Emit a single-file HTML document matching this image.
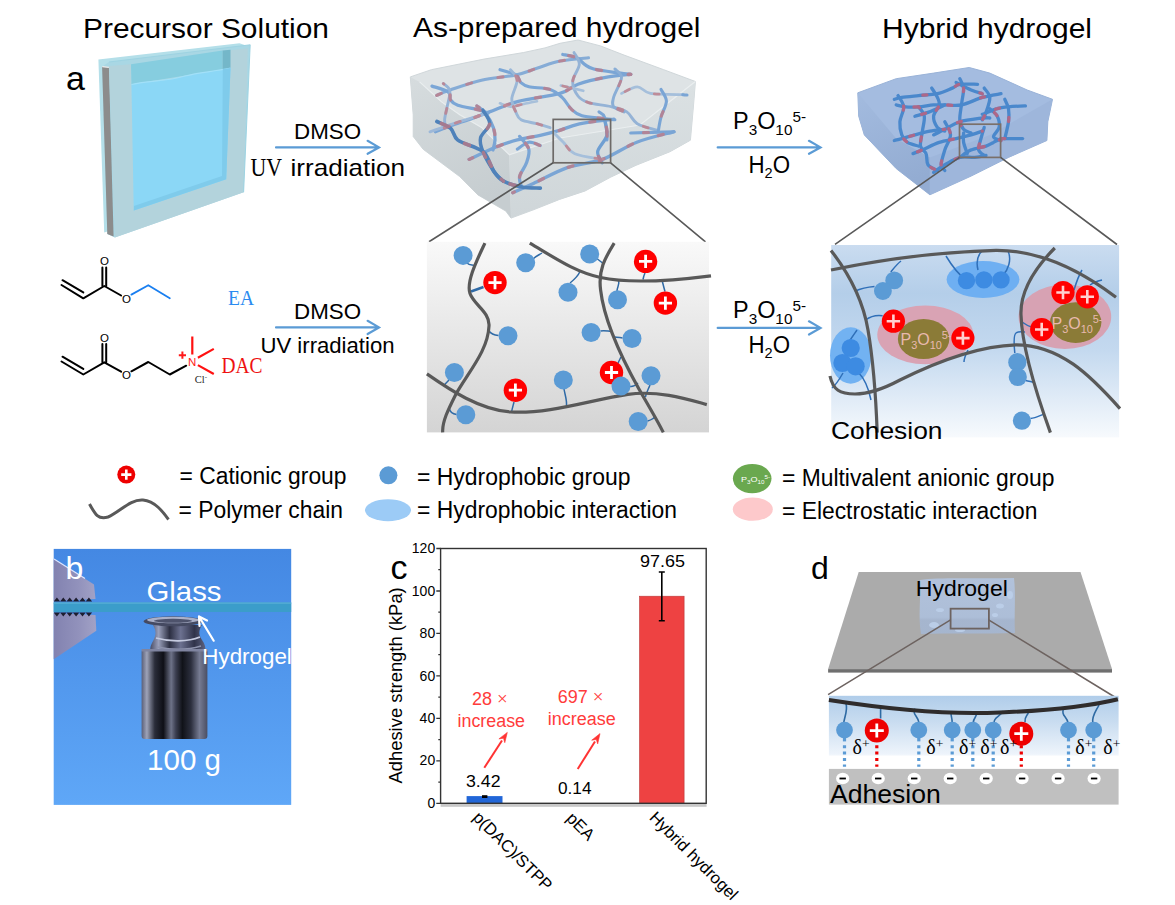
<!DOCTYPE html>
<html><head><meta charset="utf-8">
<style>
html,body{margin:0;padding:0;background:#fff;width:1175px;height:905px;overflow:hidden}
svg{display:block}
text{font-family:"Liberation Sans",sans-serif;fill:#000}
.sf{font-family:"Liberation Serif",serif}
</style></head><body>
<svg width="1175" height="905" viewBox="0 0 1175 905">
<defs>
  <linearGradient id="gMid" x1="0" y1="0" x2="0" y2="1">
    <stop offset="0" stop-color="#f9f9f9"/><stop offset="1" stop-color="#d4d4d4"/>
  </linearGradient>
  <linearGradient id="gRight" x1="0" y1="0" x2="0" y2="1">
    <stop offset="0" stop-color="#cadcf0"/><stop offset="0.25" stop-color="#b4cee9"/><stop offset="0.55" stop-color="#c4d9ef"/><stop offset="1" stop-color="#f7fafd"/>
  </linearGradient>
  <linearGradient id="gPhoto" x1="0" y1="0" x2="0" y2="1">
    <stop offset="0" stop-color="#4488e3"/><stop offset="1" stop-color="#5fa7f7"/>
  </linearGradient>
  <linearGradient id="gD" x1="0" y1="695.8" x2="0" y2="768.9" gradientUnits="userSpaceOnUse">
    <stop offset="0" stop-color="#b0cdea"/><stop offset="0.35" stop-color="#c8dcf0"/><stop offset="0.8" stop-color="#eef4fb"/><stop offset="0.83" stop-color="#ffffff"/><stop offset="1" stop-color="#ffffff"/>
  </linearGradient>
</defs>

<!-- ============ TITLES ============ -->
<text x="83" y="37.8" font-size="28" textLength="246" lengthAdjust="spacingAndGlyphs">Precursor Solution</text>
<text x="413" y="36.8" font-size="28" textLength="287.5" lengthAdjust="spacingAndGlyphs">As-prepared hydrogel</text>
<text x="882" y="38.4" font-size="28" textLength="210" lengthAdjust="spacingAndGlyphs">Hybrid hydrogel</text>
<text x="66" y="90" font-size="34">a</text>


<!-- ============ PRECURSOR CELL ============ -->
<g>
  <polygon points="98.4,59.5 239.5,43.3 246,45.5 240,190 104.2,232.5" fill="#b4dfe9"/>
  <polygon points="109,62 250.2,44.8 243.6,192.2 114.8,237.4 107.3,234 102.1,66.8" fill="#a9d7e4"/>
  <polygon points="102.1,66.8 108.9,67 113.6,236.5 107.3,234" fill="#8c8c8c"/>
  <path d="M102.3,66.6 L108.9,67.4" stroke="#eeeeee" stroke-width="1.2"/>
  <polygon points="109,66 131,64.2 133.8,210.5 226.1,179.2 226.6,50.8 247.8,48.3 243.6,192.2 114.8,237.4" fill="#b3d3dc"/>
  <polygon points="131,64.2 222.6,50.6 222.6,69.5 131.5,84.2" fill="#86cddf"/>
  <polygon points="222.6,50.6 230.5,49.8 230.5,68 222.6,69.5" fill="#74b7c9"/>
  <path d="M131.5,84.5 C150,80 165,82 185,76 C200,72 212,72 230.5,68 L226.2,179.2 L133.8,210.5 Z" fill="#8bd7f6"/>
  <path d="M131.5,84.5 C150,80 165,82 185,76 C200,72 212,72 230.5,68" fill="none" stroke="#a2e0f8" stroke-width="1.2"/>
  <polygon points="222.8,69 230.5,68 226.2,179.2 133.8,210.5 134,206 222,176" fill="#7fcbeb"/>
  <path d="M250.2,44.8 L243.6,192.2 M109,62 L250.2,44.8" stroke="#9ed3e2" stroke-width="1" fill="none"/>
</g>

<!-- BLOCKS START -->
<!-- ============ AS-PREPARED BLOCK ============ -->
<defs><linearGradient id="gAL" x1="0" y1="0" x2="0.3" y2="1"><stop offset="0" stop-color="#d6dcde"/><stop offset="1" stop-color="#c6cdd0"/></linearGradient><linearGradient id="gAR" x1="0" y1="0" x2="0" y2="1"><stop offset="0" stop-color="#dbe1e3"/><stop offset="1" stop-color="#cfd6d9"/></linearGradient></defs>
<polygon points="410.3,76.9 431.4,69.7 484.0,59.1 523.7,52.5 545.0,47.9 560.0,43.3 578.0,40.0 600.4,45.9 624.1,55.1 663.7,69.7 695.4,81.5 693.6,104.0 690.4,140.2 670.0,151.7 636.0,165.3 610.6,177.2 585.0,191.0 559.6,199.4 534.0,209.6 511.0,218.1 505.8,211.1 477.9,194.9 459.7,176.6 423.2,149.3 413.2,136.5 413.2,114.7" fill="#dee3e5" stroke="#d0d7da" stroke-width="1"/>
<polygon points="410.3,76.9 419.6,81.9 441.5,101.9 459.7,114.7 481.5,127.4 499.8,145.7 509.3,154.8 511.0,218.1 505.8,211.1 477.9,194.9 459.7,176.6 423.2,149.3 413.2,136.5 413.2,114.7" fill="url(#gAL)"/>
<polygon points="509.3,154.8 560.0,138.0 640.0,125.0 695.4,81.5 693.6,104.0 690.4,140.2 670.0,151.7 636.0,165.3 610.6,177.2 585.0,191.0 559.6,199.4 534.0,209.6 511.0,218.1" fill="url(#gAR)"/>
<path d="M419.6 81.9L441.5 101.9L459.7 114.7L481.5 127.4L499.8 145.7L509.3 154.8L560 138L640 125L695.4 81.5" stroke="#eef1f2" stroke-width="1.2" fill="none" opacity="0.8"/>
<g fill="none" stroke-linecap="round">
<path d="M436.7 95.4C438.9 94.5 442.4 92.6 449.8 90.1C457.3 87.6 470.5 82.7 481.5 80.2C492.5 77.7 506.6 76.9 515.8 74.9C525.0 73.0 529.5 70.6 536.9 68.3C544.3 66.0 551.4 62.8 560.0 61.1C568.6 59.3 583.7 58.3 588.5 57.8" stroke="#86acd6" stroke-width="3.1"/>
<path d="M432.0 86.1C434.8 87.1 445.5 89.8 448.5 92.1C451.6 94.4 449.0 97.8 450.5 100.0C452.0 102.2 453.0 103.6 457.8 105.3C462.5 106.9 473.8 108.6 478.9 109.9C483.9 111.2 486.6 112.6 488.1 113.2" stroke="#7ba6d6" stroke-width="3.3"/>
<path d="M435.3 131.7C437.5 130.8 443.0 128.4 448.5 126.4C454.0 124.4 461.5 122.2 468.3 119.8C475.1 117.4 481.1 114.9 489.4 111.9C497.8 108.8 506.7 104.4 518.4 101.3C530.2 98.2 550.1 96.3 560.0 93.4C569.9 90.5 570.6 86.8 578.0 84.2C585.4 81.6 595.6 79.2 604.4 77.6C613.2 75.9 626.3 74.8 630.7 74.3" stroke="#7aa5d5" stroke-width="3.3"/>
<path d="M476.9 105.9C478.3 107.1 482.7 109.6 485.5 113.2C488.2 116.8 491.8 123.2 493.4 127.7C495.0 132.2 495.1 136.3 495.0 140.0C494.9 143.7 493.3 148.3 493.0 150.0" stroke="#7aa5d5" stroke-width="3.3"/>
<path d="M500.0 69.7C502.6 70.5 512.3 72.7 515.8 74.9C519.3 77.1 518.9 80.9 521.1 82.8C523.3 84.8 524.2 85.7 529.0 86.8C533.8 87.9 544.6 87.7 550.1 89.4C555.6 91.2 558.5 94.1 562.1 97.4C565.7 100.7 568.1 106.1 571.4 109.2C574.7 112.3 576.7 114.2 582.0 115.8C587.3 117.3 597.5 117.8 603.0 118.5C608.5 119.2 612.9 119.6 614.9 119.8" stroke="#7ba6d6" stroke-width="3.1"/>
<path d="M510.5 69.7C511.6 71.4 516.9 75.4 517.1 80.2C517.3 85.0 512.1 93.4 511.8 98.7C511.6 104.0 514.3 108.4 515.8 111.9C517.3 115.4 517.6 117.8 521.1 119.8C524.6 121.8 532.1 122.4 536.9 123.7C541.7 125.1 547.9 127.0 550.1 127.7" stroke="#9bb8d8" stroke-width="2.9"/>
<path d="M443.3 83.5C444.4 84.7 449.2 86.9 449.8 90.8C450.5 94.6 448.1 101.8 447.2 106.6C446.3 111.4 444.8 116.3 444.6 119.8C444.4 123.3 445.7 126.4 445.9 127.7" stroke="#95b3d6" stroke-width="2.9"/>
<path d="M500.0 103.3C501.7 103.8 506.6 106.5 510.5 106.6C514.5 106.7 519.3 104.8 523.7 104.0C528.1 103.1 534.7 101.8 536.9 101.3" stroke="#a8c0da" stroke-width="2.7"/>
<path d="M562.8 54.5C565.1 55.0 573.1 56.1 576.7 57.8C580.3 59.4 581.8 62.5 584.6 64.4C587.5 66.3 588.1 67.6 593.8 69.0C599.5 70.4 612.8 72.1 618.9 73.0C625.0 73.9 628.7 74.1 630.7 74.3" stroke="#7aa5d5" stroke-width="3.3"/>
<path d="M574.0 52.5C574.9 54.5 579.5 59.6 579.3 64.4C579.1 69.2 572.9 76.2 572.7 81.5C572.5 86.8 575.4 92.5 578.0 96.0C580.6 99.5 583.0 100.8 588.5 102.6C594.0 104.4 604.6 105.0 611.0 106.6C617.4 108.1 622.4 109.1 626.8 111.9C631.2 114.8 632.2 120.6 637.3 123.7C642.3 126.8 653.8 129.2 657.1 130.3" stroke="#95b3d6" stroke-width="2.9"/>
<path d="M614.9 69.0C616.0 70.4 621.7 72.9 621.5 77.6C621.3 82.3 614.9 92.6 613.6 97.4C612.3 102.2 611.9 104.2 613.6 106.6C615.4 109.0 622.4 111.0 624.1 111.9" stroke="#8aaed6" stroke-width="2.9"/>
<path d="M621.5 93.4C624.1 92.3 632.5 86.8 637.3 86.8C642.1 86.8 642.8 92.1 650.5 93.4C658.2 94.7 678.0 94.5 683.5 94.7" stroke="#a5bfdb" stroke-width="2.7"/>
<path d="M661.0 89.4C661.9 91.4 666.4 96.7 666.4 101.3C666.4 105.9 662.3 112.3 661.0 117.1C659.7 121.9 658.8 128.1 658.4 130.3" stroke="#7aa5d5" stroke-width="3.1"/>
<path d="M630.7 133.0C638.0 132.8 667.0 131.9 674.3 131.7" stroke="#7aa5d5" stroke-width="3.1"/>
<path d="M560.8 85.5C564.5 86.4 579.5 89.9 583.3 90.8" stroke="#a5bfdb" stroke-width="2.7"/>
<path d="M599.0 111.9C599.9 112.8 603.1 113.2 604.4 117.1C605.7 120.9 606.6 131.2 607.0 135.0C607.4 138.8 606.9 139.2 606.9 140.0" stroke="#7aa5d5" stroke-width="3.1"/>
<path d="M682.8 94.7C683.5 94.8 686.3 95.0 687.0 95.0" stroke="#7aa5d5" stroke-width="3.1"/>
<path d="M469.1 159.4C473.7 157.3 488.6 150.1 496.6 146.8C504.6 143.6 510.0 141.8 517.3 139.9C524.6 138.0 533.4 136.8 540.3 135.3C547.2 133.8 552.2 132.6 558.7 130.7C565.2 128.8 570.2 125.7 579.4 123.8C588.6 121.9 608.1 120.0 613.8 119.2" stroke="#7aa5d5" stroke-width="3.3"/>
<path d="M517.3 149.1C519.2 147.9 525.0 142.8 528.8 142.2C532.6 141.6 538.4 145.0 540.3 145.6" stroke="#7aa5d5" stroke-width="3.1"/>
<path d="M519.6 136.4C521.1 138.5 527.6 144.7 528.8 149.1C529.9 153.5 528.0 158.2 526.5 162.8C525.0 167.4 520.4 172.4 519.6 176.6C518.8 180.8 521.5 186.2 521.9 188.1" stroke="#7aa5d5" stroke-width="3.3"/>
<path d="M512.7 192.7C516.2 191.2 524.2 187.7 533.4 183.5C542.6 179.3 556.4 171.4 567.9 167.4C579.4 163.4 590.8 163.6 602.3 159.4C613.8 155.2 624.9 146.8 636.8 142.2C648.7 137.6 667.5 133.5 673.6 131.8" stroke="#7aa5d5" stroke-width="3.3"/>
<path d="M554.1 133.0C555.6 134.5 559.8 138.8 563.3 142.2C566.8 145.6 568.3 150.8 574.8 153.7C581.3 156.6 597.7 158.4 602.3 159.4" stroke="#a5bfdb" stroke-width="2.9"/>
<path d="M604.6 120.3C605.0 122.8 608.0 130.1 606.9 135.3C605.8 140.5 598.5 146.8 597.7 151.4C596.9 156.0 601.5 160.9 602.3 162.8" stroke="#6f9fd2" stroke-width="3.3"/>
<path d="M430.0 131.8C433.8 130.5 444.2 126.7 453.0 123.8C461.8 120.9 477.8 116.1 482.8 114.6" stroke="#9db8d8" stroke-width="2.9"/>
<path d="M482.8 110.0C483.9 112.3 490.1 119.2 489.7 123.8C489.3 128.4 481.8 133.0 480.6 137.6C479.5 142.2 480.5 145.7 482.8 151.4C485.1 157.1 490.9 167.0 494.3 172.0C497.8 177.0 502.0 179.7 503.5 181.2" stroke="#4f82ba" stroke-width="3.5"/>
<path d="M436.9 121.5C439.2 122.7 447.2 125.3 450.7 128.4C454.1 131.5 453.4 136.7 457.6 139.9C461.8 143.2 471.4 145.6 476.0 147.9C480.6 150.2 482.1 149.7 485.1 153.7C488.2 157.7 491.2 167.4 494.3 172.0C497.4 176.6 498.9 178.7 503.5 181.2C508.1 183.7 515.8 185.8 521.9 187.0C528.0 188.2 537.2 187.9 540.3 188.1" stroke="#4f82ba" stroke-width="3.7"/>
<g opacity="0.7"><path d="M436.7 95.4C438.9 94.5 442.4 92.6 449.8 90.1C457.3 87.6 470.5 82.7 481.5 80.2C492.5 77.7 506.6 76.9 515.8 74.9C525.0 73.0 529.5 70.6 536.9 68.3C544.3 66.0 551.4 62.8 560.0 61.1C568.6 59.3 583.7 58.3 588.5 57.8" stroke="#c9777d" stroke-width="3.1" stroke-dasharray="5 27" stroke-dashoffset="0"/>
<path d="M432.0 86.1C434.8 87.1 445.5 89.8 448.5 92.1C451.6 94.4 449.0 97.8 450.5 100.0C452.0 102.2 453.0 103.6 457.8 105.3C462.5 106.9 473.8 108.6 478.9 109.9C483.9 111.2 486.6 112.6 488.1 113.2" stroke="#c9777d" stroke-width="3.3" stroke-dasharray="5 27" stroke-dashoffset="11"/>
<path d="M435.3 131.7C437.5 130.8 443.0 128.4 448.5 126.4C454.0 124.4 461.5 122.2 468.3 119.8C475.1 117.4 481.1 114.9 489.4 111.9C497.8 108.8 506.7 104.4 518.4 101.3C530.2 98.2 550.1 96.3 560.0 93.4C569.9 90.5 570.6 86.8 578.0 84.2C585.4 81.6 595.6 79.2 604.4 77.6C613.2 75.9 626.3 74.8 630.7 74.3" stroke="#c9777d" stroke-width="3.3" stroke-dasharray="5 27" stroke-dashoffset="22"/>
<path d="M476.9 105.9C478.3 107.1 482.7 109.6 485.5 113.2C488.2 116.8 491.8 123.2 493.4 127.7C495.0 132.2 495.1 136.3 495.0 140.0C494.9 143.7 493.3 148.3 493.0 150.0" stroke="#c9777d" stroke-width="3.3" stroke-dasharray="5 27" stroke-dashoffset="2"/>
<path d="M500.0 69.7C502.6 70.5 512.3 72.7 515.8 74.9C519.3 77.1 518.9 80.9 521.1 82.8C523.3 84.8 524.2 85.7 529.0 86.8C533.8 87.9 544.6 87.7 550.1 89.4C555.6 91.2 558.5 94.1 562.1 97.4C565.7 100.7 568.1 106.1 571.4 109.2C574.7 112.3 576.7 114.2 582.0 115.8C587.3 117.3 597.5 117.8 603.0 118.5C608.5 119.2 612.9 119.6 614.9 119.8" stroke="#c9777d" stroke-width="3.1" stroke-dasharray="5 27" stroke-dashoffset="13"/>
<path d="M510.5 69.7C511.6 71.4 516.9 75.4 517.1 80.2C517.3 85.0 512.1 93.4 511.8 98.7C511.6 104.0 514.3 108.4 515.8 111.9C517.3 115.4 517.6 117.8 521.1 119.8C524.6 121.8 532.1 122.4 536.9 123.7C541.7 125.1 547.9 127.0 550.1 127.7" stroke="#c9777d" stroke-width="2.9" stroke-dasharray="5 27" stroke-dashoffset="24"/>
<path d="M443.3 83.5C444.4 84.7 449.2 86.9 449.8 90.8C450.5 94.6 448.1 101.8 447.2 106.6C446.3 111.4 444.8 116.3 444.6 119.8C444.4 123.3 445.7 126.4 445.9 127.7" stroke="#c9777d" stroke-width="2.9" stroke-dasharray="5 27" stroke-dashoffset="4"/>
<path d="M500.0 103.3C501.7 103.8 506.6 106.5 510.5 106.6C514.5 106.7 519.3 104.8 523.7 104.0C528.1 103.1 534.7 101.8 536.9 101.3" stroke="#c9777d" stroke-width="2.7" stroke-dasharray="5 27" stroke-dashoffset="15"/>
<path d="M562.8 54.5C565.1 55.0 573.1 56.1 576.7 57.8C580.3 59.4 581.8 62.5 584.6 64.4C587.5 66.3 588.1 67.6 593.8 69.0C599.5 70.4 612.8 72.1 618.9 73.0C625.0 73.9 628.7 74.1 630.7 74.3" stroke="#c9777d" stroke-width="3.3" stroke-dasharray="5 27" stroke-dashoffset="26"/>
<path d="M574.0 52.5C574.9 54.5 579.5 59.6 579.3 64.4C579.1 69.2 572.9 76.2 572.7 81.5C572.5 86.8 575.4 92.5 578.0 96.0C580.6 99.5 583.0 100.8 588.5 102.6C594.0 104.4 604.6 105.0 611.0 106.6C617.4 108.1 622.4 109.1 626.8 111.9C631.2 114.8 632.2 120.6 637.3 123.7C642.3 126.8 653.8 129.2 657.1 130.3" stroke="#c9777d" stroke-width="2.9" stroke-dasharray="5 27" stroke-dashoffset="6"/>
<path d="M614.9 69.0C616.0 70.4 621.7 72.9 621.5 77.6C621.3 82.3 614.9 92.6 613.6 97.4C612.3 102.2 611.9 104.2 613.6 106.6C615.4 109.0 622.4 111.0 624.1 111.9" stroke="#c9777d" stroke-width="2.9" stroke-dasharray="5 27" stroke-dashoffset="17"/>
<path d="M621.5 93.4C624.1 92.3 632.5 86.8 637.3 86.8C642.1 86.8 642.8 92.1 650.5 93.4C658.2 94.7 678.0 94.5 683.5 94.7" stroke="#c9777d" stroke-width="2.7" stroke-dasharray="5 27" stroke-dashoffset="28"/>
<path d="M661.0 89.4C661.9 91.4 666.4 96.7 666.4 101.3C666.4 105.9 662.3 112.3 661.0 117.1C659.7 121.9 658.8 128.1 658.4 130.3" stroke="#c9777d" stroke-width="3.1" stroke-dasharray="5 27" stroke-dashoffset="8"/>
<path d="M630.7 133.0C638.0 132.8 667.0 131.9 674.3 131.7" stroke="#c9777d" stroke-width="3.1" stroke-dasharray="5 27" stroke-dashoffset="19"/>
<path d="M560.8 85.5C564.5 86.4 579.5 89.9 583.3 90.8" stroke="#c9777d" stroke-width="2.7" stroke-dasharray="5 27" stroke-dashoffset="30"/>
<path d="M599.0 111.9C599.9 112.8 603.1 113.2 604.4 117.1C605.7 120.9 606.6 131.2 607.0 135.0C607.4 138.8 606.9 139.2 606.9 140.0" stroke="#c9777d" stroke-width="3.1" stroke-dasharray="5 27" stroke-dashoffset="10"/>
<path d="M682.8 94.7C683.5 94.8 686.3 95.0 687.0 95.0" stroke="#c9777d" stroke-width="3.1" stroke-dasharray="5 27" stroke-dashoffset="21"/>
<path d="M469.1 159.4C473.7 157.3 488.6 150.1 496.6 146.8C504.6 143.6 510.0 141.8 517.3 139.9C524.6 138.0 533.4 136.8 540.3 135.3C547.2 133.8 552.2 132.6 558.7 130.7C565.2 128.8 570.2 125.7 579.4 123.8C588.6 121.9 608.1 120.0 613.8 119.2" stroke="#c9777d" stroke-width="3.3" stroke-dasharray="5 27" stroke-dashoffset="1"/>
<path d="M517.3 149.1C519.2 147.9 525.0 142.8 528.8 142.2C532.6 141.6 538.4 145.0 540.3 145.6" stroke="#c9777d" stroke-width="3.1" stroke-dasharray="5 27" stroke-dashoffset="12"/>
<path d="M519.6 136.4C521.1 138.5 527.6 144.7 528.8 149.1C529.9 153.5 528.0 158.2 526.5 162.8C525.0 167.4 520.4 172.4 519.6 176.6C518.8 180.8 521.5 186.2 521.9 188.1" stroke="#c9777d" stroke-width="3.3" stroke-dasharray="5 27" stroke-dashoffset="23"/>
<path d="M512.7 192.7C516.2 191.2 524.2 187.7 533.4 183.5C542.6 179.3 556.4 171.4 567.9 167.4C579.4 163.4 590.8 163.6 602.3 159.4C613.8 155.2 624.9 146.8 636.8 142.2C648.7 137.6 667.5 133.5 673.6 131.8" stroke="#c9777d" stroke-width="3.3" stroke-dasharray="5 27" stroke-dashoffset="3"/>
<path d="M554.1 133.0C555.6 134.5 559.8 138.8 563.3 142.2C566.8 145.6 568.3 150.8 574.8 153.7C581.3 156.6 597.7 158.4 602.3 159.4" stroke="#c9777d" stroke-width="2.9" stroke-dasharray="5 27" stroke-dashoffset="14"/>
<path d="M604.6 120.3C605.0 122.8 608.0 130.1 606.9 135.3C605.8 140.5 598.5 146.8 597.7 151.4C596.9 156.0 601.5 160.9 602.3 162.8" stroke="#c9777d" stroke-width="3.3" stroke-dasharray="5 27" stroke-dashoffset="25"/>
<path d="M430.0 131.8C433.8 130.5 444.2 126.7 453.0 123.8C461.8 120.9 477.8 116.1 482.8 114.6" stroke="#c9777d" stroke-width="2.9" stroke-dasharray="5 27" stroke-dashoffset="5"/>
<path d="M482.8 110.0C483.9 112.3 490.1 119.2 489.7 123.8C489.3 128.4 481.8 133.0 480.6 137.6C479.5 142.2 480.5 145.7 482.8 151.4C485.1 157.1 490.9 167.0 494.3 172.0C497.8 177.0 502.0 179.7 503.5 181.2" stroke="#c9777d" stroke-width="3.5" stroke-dasharray="5 27" stroke-dashoffset="16"/>
<path d="M436.9 121.5C439.2 122.7 447.2 125.3 450.7 128.4C454.1 131.5 453.4 136.7 457.6 139.9C461.8 143.2 471.4 145.6 476.0 147.9C480.6 150.2 482.1 149.7 485.1 153.7C488.2 157.7 491.2 167.4 494.3 172.0C497.4 176.6 498.9 178.7 503.5 181.2C508.1 183.7 515.8 185.8 521.9 187.0C528.0 188.2 537.2 187.9 540.3 188.1" stroke="#c9777d" stroke-width="3.7" stroke-dasharray="5 27" stroke-dashoffset="27"/></g>
</g>
<rect x="553.2" y="119.4" width="57.4" height="43.4" fill="none" stroke="#6d6a68" stroke-width="1.7"/>
<path d="M553.2 162.8L429 241.8M610.6 162.8L705.5 241.8" stroke="#595959" stroke-width="1.6" fill="none"/>

<!-- ============ HYBRID BLOCK ============ -->
<defs><linearGradient id="gHL" x1="0" y1="0" x2="0.3" y2="1"><stop offset="0" stop-color="#a3bbdf"/><stop offset="1" stop-color="#93acd2"/></linearGradient></defs>
<polygon points="857.8,92.8 896.2,78.7 933.6,73.1 969.2,67.5 989.8,73.1 1027.2,90.0 1052.5,99.3 1047.8,121.8 1046.9,140.5 1008.5,157.4 971.1,176.1 929.9,194.8 896.2,168.6 864.3,134.9 858.7,116.2" fill="#a4bce0" stroke="#9ab3d8" stroke-width="1"/>
<polygon points="857.8,92.8 896.2,138.6 929.9,157.4 929.9,194.8 896.2,168.6 864.3,134.9 858.7,116.2" fill="url(#gHL)"/>
<polygon points="929.9,157.4 989.8,134.9 1052.5,99.3 1047.8,121.8 1046.9,140.5 1008.5,157.4 971.1,176.1 929.9,194.8" fill="#9eb6db"/>
<g fill="none" stroke-linecap="round">
<path d="M894.3 99.3C895.5 99.0 897.7 98.1 901.8 97.4C905.8 96.8 912.7 96.2 918.6 95.6C924.6 94.9 931.7 94.9 937.4 93.7C943.0 92.5 948.6 89.6 952.3 88.1C956.1 86.5 955.6 85.0 959.8 84.3C964.0 83.7 974.7 84.3 977.6 84.3" stroke="#4a88cc" stroke-width="3.3"/>
<path d="M896.2 104.9C897.7 105.2 901.8 106.5 905.5 106.8C909.3 107.1 914.0 107.1 918.6 106.8C923.3 106.5 929.2 105.2 933.6 104.9C938.0 104.6 940.2 104.9 944.8 104.9C949.5 104.9 955.5 106.2 961.7 104.9C967.9 103.7 975.7 99.3 982.3 97.4C988.8 95.6 997.9 94.3 1001.0 93.7" stroke="#4a88cc" stroke-width="3.3"/>
<path d="M914.9 116.2C917.1 115.5 923.0 114.3 928.0 112.4C933.0 110.6 942.0 106.2 944.8 104.9" stroke="#4a88cc" stroke-width="3.3"/>
<path d="M933.6 134.9C935.5 134.0 940.5 131.5 944.8 129.3C949.2 127.1 953.6 123.7 959.8 121.8C966.1 119.9 977.3 118.7 982.3 118.0C987.3 117.4 988.5 118.0 989.8 118.0" stroke="#4a88cc" stroke-width="3.3"/>
<path d="M894.3 140.5C895.5 140.2 898.4 139.6 901.8 138.6C905.2 137.7 910.2 136.1 914.9 134.9C919.6 133.6 924.9 132.1 929.9 131.1C934.9 130.2 942.4 129.6 944.8 129.3" stroke="#4a88cc" stroke-width="3.3"/>
<path d="M913.0 153.6C914.6 153.0 918.0 151.7 922.4 149.9C926.8 148.0 933.6 144.3 939.2 142.4C944.8 140.5 950.8 139.9 956.1 138.6C961.4 137.4 966.7 136.1 971.1 134.9C975.4 133.6 980.4 131.8 982.3 131.1" stroke="#4a88cc" stroke-width="3.3"/>
<path d="M933.6 172.3C935.5 171.1 940.5 167.3 944.8 164.8C949.2 162.4 954.8 158.6 959.8 157.4C964.8 156.1 970.4 157.7 974.8 157.4C979.2 157.0 984.2 155.8 986.0 155.5" stroke="#4a88cc" stroke-width="3.3"/>
<path d="M982.3 114.3C984.8 113.4 992.9 109.9 997.3 108.7C1001.6 107.4 1003.8 107.3 1008.5 106.8C1013.2 106.3 1022.6 106.0 1025.4 105.9" stroke="#4a88cc" stroke-width="3.3"/>
<path d="M1001.0 138.6C1002.3 138.6 1004.9 138.6 1008.5 138.6C1012.1 138.6 1020.2 138.6 1022.6 138.6" stroke="#4a88cc" stroke-width="3.3"/>
<path d="M959.8 157.4C961.7 156.1 966.7 151.7 971.1 149.9C975.4 148.0 982.3 147.4 986.0 146.1C989.8 144.9 991.0 143.6 993.5 142.4C996.0 141.1 999.8 139.3 1001.0 138.6" stroke="#4a88cc" stroke-width="3.3"/>
<path d="M898.0 95.6C899.0 97.4 903.3 102.4 903.7 106.8C904.0 111.2 900.2 117.1 899.9 121.8C899.6 126.5 900.5 131.5 901.8 134.9C903.0 138.3 904.6 140.5 907.4 142.4C910.2 144.3 916.8 145.5 918.6 146.1" stroke="#4a88cc" stroke-width="3.3"/>
<path d="M918.6 106.8C919.6 108.4 923.6 112.1 924.3 116.2C924.9 120.2 923.0 126.2 922.4 131.1C921.8 136.1 919.9 142.4 920.5 146.1C921.1 149.9 924.9 150.5 926.1 153.6C927.4 156.7 926.1 162.0 928.0 164.8C929.9 167.7 935.8 169.5 937.4 170.5" stroke="#4a88cc" stroke-width="3.3"/>
<path d="M931.7 88.1C932.7 89.6 936.1 94.6 937.4 97.4C938.6 100.3 939.9 101.8 939.2 104.9C938.6 108.1 933.9 112.4 933.6 116.2C933.3 119.9 935.5 124.9 937.4 127.4C939.2 129.9 943.6 130.5 944.8 131.1" stroke="#4a88cc" stroke-width="3.3"/>
<path d="M959.8 78.7C960.5 80.3 963.3 84.0 963.6 88.1C963.9 92.1 962.3 97.8 961.7 103.1C961.1 108.4 959.5 115.5 959.8 119.9C960.1 124.3 961.7 127.1 963.6 129.3C965.4 131.5 969.8 132.4 971.1 133.0" stroke="#4a88cc" stroke-width="3.3"/>
<path d="M984.2 88.1C985.1 89.6 989.5 93.4 989.8 97.4C990.1 101.5 987.3 108.7 986.0 112.4C984.8 116.2 982.9 118.7 982.3 119.9" stroke="#4a88cc" stroke-width="3.3"/>
<path d="M1004.8 99.3C1005.4 100.9 1007.9 104.9 1008.5 108.7C1009.1 112.4 1009.1 116.8 1008.5 121.8C1007.9 126.8 1005.4 135.8 1004.8 138.6" stroke="#4a88cc" stroke-width="3.3"/>
<path d="M944.8 121.8C945.8 124.0 950.5 130.2 950.5 134.9C950.5 139.6 946.4 144.9 944.8 149.9C943.3 154.9 941.1 161.4 941.1 164.8C941.1 168.3 944.2 169.5 944.8 170.5" stroke="#4a88cc" stroke-width="3.3"/>
<path d="M963.6 133.0C963.6 134.6 962.9 138.9 963.6 142.4C964.2 145.8 966.7 151.7 967.3 153.6" stroke="#4a88cc" stroke-width="3.3"/>
<path d="M984.2 127.4C983.5 129.6 981.4 136.8 980.4 140.5C979.5 144.3 977.9 147.4 978.6 149.9C979.2 152.4 983.2 154.6 984.2 155.5" stroke="#4a88cc" stroke-width="3.3"/>
<path d="M989.8 108.7C991.0 109.9 995.7 113.0 997.3 116.2C998.8 119.3 999.8 124.0 999.1 127.4C998.5 130.8 993.2 134.6 993.5 136.8C993.8 138.9 999.8 139.9 1001.0 140.5" stroke="#4a88cc" stroke-width="3.3"/>
<path d="M956.1 82.5C958.6 83.7 966.7 88.1 971.1 90.0C975.4 91.8 980.4 93.1 982.3 93.7" stroke="#4a88cc" stroke-width="3.3"/>
<g opacity="0.7"><path d="M894.3 99.3C895.5 99.0 897.7 98.1 901.8 97.4C905.8 96.8 912.7 96.2 918.6 95.6C924.6 94.9 931.7 94.9 937.4 93.7C943.0 92.5 948.6 89.6 952.3 88.1C956.1 86.5 955.6 85.0 959.8 84.3C964.0 83.7 974.7 84.3 977.6 84.3" stroke="#d85a6c" stroke-width="3.3" stroke-dasharray="4 30" stroke-dashoffset="5"/>
<path d="M896.2 104.9C897.7 105.2 901.8 106.5 905.5 106.8C909.3 107.1 914.0 107.1 918.6 106.8C923.3 106.5 929.2 105.2 933.6 104.9C938.0 104.6 940.2 104.9 944.8 104.9C949.5 104.9 955.5 106.2 961.7 104.9C967.9 103.7 975.7 99.3 982.3 97.4C988.8 95.6 997.9 94.3 1001.0 93.7" stroke="#d85a6c" stroke-width="3.3" stroke-dasharray="4 30" stroke-dashoffset="16"/>
<path d="M914.9 116.2C917.1 115.5 923.0 114.3 928.0 112.4C933.0 110.6 942.0 106.2 944.8 104.9" stroke="#d85a6c" stroke-width="3.3" stroke-dasharray="4 30" stroke-dashoffset="27"/>
<path d="M933.6 134.9C935.5 134.0 940.5 131.5 944.8 129.3C949.2 127.1 953.6 123.7 959.8 121.8C966.1 119.9 977.3 118.7 982.3 118.0C987.3 117.4 988.5 118.0 989.8 118.0" stroke="#d85a6c" stroke-width="3.3" stroke-dasharray="4 30" stroke-dashoffset="7"/>
<path d="M894.3 140.5C895.5 140.2 898.4 139.6 901.8 138.6C905.2 137.7 910.2 136.1 914.9 134.9C919.6 133.6 924.9 132.1 929.9 131.1C934.9 130.2 942.4 129.6 944.8 129.3" stroke="#d85a6c" stroke-width="3.3" stroke-dasharray="4 30" stroke-dashoffset="18"/>
<path d="M913.0 153.6C914.6 153.0 918.0 151.7 922.4 149.9C926.8 148.0 933.6 144.3 939.2 142.4C944.8 140.5 950.8 139.9 956.1 138.6C961.4 137.4 966.7 136.1 971.1 134.9C975.4 133.6 980.4 131.8 982.3 131.1" stroke="#d85a6c" stroke-width="3.3" stroke-dasharray="4 30" stroke-dashoffset="29"/>
<path d="M933.6 172.3C935.5 171.1 940.5 167.3 944.8 164.8C949.2 162.4 954.8 158.6 959.8 157.4C964.8 156.1 970.4 157.7 974.8 157.4C979.2 157.0 984.2 155.8 986.0 155.5" stroke="#d85a6c" stroke-width="3.3" stroke-dasharray="4 30" stroke-dashoffset="9"/>
<path d="M982.3 114.3C984.8 113.4 992.9 109.9 997.3 108.7C1001.6 107.4 1003.8 107.3 1008.5 106.8C1013.2 106.3 1022.6 106.0 1025.4 105.9" stroke="#d85a6c" stroke-width="3.3" stroke-dasharray="4 30" stroke-dashoffset="20"/>
<path d="M1001.0 138.6C1002.3 138.6 1004.9 138.6 1008.5 138.6C1012.1 138.6 1020.2 138.6 1022.6 138.6" stroke="#d85a6c" stroke-width="3.3" stroke-dasharray="4 30" stroke-dashoffset="0"/>
<path d="M959.8 157.4C961.7 156.1 966.7 151.7 971.1 149.9C975.4 148.0 982.3 147.4 986.0 146.1C989.8 144.9 991.0 143.6 993.5 142.4C996.0 141.1 999.8 139.3 1001.0 138.6" stroke="#d85a6c" stroke-width="3.3" stroke-dasharray="4 30" stroke-dashoffset="11"/>
<path d="M898.0 95.6C899.0 97.4 903.3 102.4 903.7 106.8C904.0 111.2 900.2 117.1 899.9 121.8C899.6 126.5 900.5 131.5 901.8 134.9C903.0 138.3 904.6 140.5 907.4 142.4C910.2 144.3 916.8 145.5 918.6 146.1" stroke="#d85a6c" stroke-width="3.3" stroke-dasharray="4 30" stroke-dashoffset="22"/>
<path d="M918.6 106.8C919.6 108.4 923.6 112.1 924.3 116.2C924.9 120.2 923.0 126.2 922.4 131.1C921.8 136.1 919.9 142.4 920.5 146.1C921.1 149.9 924.9 150.5 926.1 153.6C927.4 156.7 926.1 162.0 928.0 164.8C929.9 167.7 935.8 169.5 937.4 170.5" stroke="#d85a6c" stroke-width="3.3" stroke-dasharray="4 30" stroke-dashoffset="2"/>
<path d="M931.7 88.1C932.7 89.6 936.1 94.6 937.4 97.4C938.6 100.3 939.9 101.8 939.2 104.9C938.6 108.1 933.9 112.4 933.6 116.2C933.3 119.9 935.5 124.9 937.4 127.4C939.2 129.9 943.6 130.5 944.8 131.1" stroke="#d85a6c" stroke-width="3.3" stroke-dasharray="4 30" stroke-dashoffset="13"/>
<path d="M959.8 78.7C960.5 80.3 963.3 84.0 963.6 88.1C963.9 92.1 962.3 97.8 961.7 103.1C961.1 108.4 959.5 115.5 959.8 119.9C960.1 124.3 961.7 127.1 963.6 129.3C965.4 131.5 969.8 132.4 971.1 133.0" stroke="#d85a6c" stroke-width="3.3" stroke-dasharray="4 30" stroke-dashoffset="24"/>
<path d="M984.2 88.1C985.1 89.6 989.5 93.4 989.8 97.4C990.1 101.5 987.3 108.7 986.0 112.4C984.8 116.2 982.9 118.7 982.3 119.9" stroke="#d85a6c" stroke-width="3.3" stroke-dasharray="4 30" stroke-dashoffset="4"/>
<path d="M1004.8 99.3C1005.4 100.9 1007.9 104.9 1008.5 108.7C1009.1 112.4 1009.1 116.8 1008.5 121.8C1007.9 126.8 1005.4 135.8 1004.8 138.6" stroke="#d85a6c" stroke-width="3.3" stroke-dasharray="4 30" stroke-dashoffset="15"/>
<path d="M944.8 121.8C945.8 124.0 950.5 130.2 950.5 134.9C950.5 139.6 946.4 144.9 944.8 149.9C943.3 154.9 941.1 161.4 941.1 164.8C941.1 168.3 944.2 169.5 944.8 170.5" stroke="#d85a6c" stroke-width="3.3" stroke-dasharray="4 30" stroke-dashoffset="26"/>
<path d="M963.6 133.0C963.6 134.6 962.9 138.9 963.6 142.4C964.2 145.8 966.7 151.7 967.3 153.6" stroke="#d85a6c" stroke-width="3.3" stroke-dasharray="4 30" stroke-dashoffset="6"/>
<path d="M984.2 127.4C983.5 129.6 981.4 136.8 980.4 140.5C979.5 144.3 977.9 147.4 978.6 149.9C979.2 152.4 983.2 154.6 984.2 155.5" stroke="#d85a6c" stroke-width="3.3" stroke-dasharray="4 30" stroke-dashoffset="17"/>
<path d="M989.8 108.7C991.0 109.9 995.7 113.0 997.3 116.2C998.8 119.3 999.8 124.0 999.1 127.4C998.5 130.8 993.2 134.6 993.5 136.8C993.8 138.9 999.8 139.9 1001.0 140.5" stroke="#d85a6c" stroke-width="3.3" stroke-dasharray="4 30" stroke-dashoffset="28"/>
<path d="M956.1 82.5C958.6 83.7 966.7 88.1 971.1 90.0C975.4 91.8 980.4 93.1 982.3 93.7" stroke="#d85a6c" stroke-width="3.3" stroke-dasharray="4 30" stroke-dashoffset="8"/></g>
</g>
<rect x="959.5" y="124.2" width="41.1" height="33.2" fill="none" stroke="#7a706a" stroke-width="1.7"/>
<path d="M959.5 157.4L835 244.3M1000.6 157.4L1117 244.5" stroke="#595959" stroke-width="1.6" fill="none"/>
<!-- BLOCKS END -->
<!-- ============ ARROWS & REAGENTS ============ -->
<g stroke="#5b9bd5" stroke-width="2.2" fill="none" stroke-linecap="round">
  <path d="M276 147.4H378.5M367.6 140.8L379 147.4L367.6 153.8"/>
  <path d="M717.7 147.4H820M809 140.8L820.5 147.4L809 153.8"/>
  <path d="M276 327.4H378.5M367.6 320.8L379 327.4L367.6 334"/>
  <path d="M717.7 327.9H820M809 321.3L820.5 327.9L809 334.5"/>
</g>
<text x="294" y="138.8" font-size="22" textLength="67" lengthAdjust="spacingAndGlyphs">DMSO</text>
<text x="250.5" y="175.7" font-size="25" class="sf" textLength="31.5" lengthAdjust="spacingAndGlyphs">UV</text>
<text x="290.5" y="175.7" font-size="24" textLength="114.5" lengthAdjust="spacingAndGlyphs">irradiation</text>
<text x="733" y="129.3" font-size="23" textLength="73" lengthAdjust="spacingAndGlyphs">P<tspan font-size="15" dy="5.4">3</tspan><tspan dy="-5.4">O</tspan><tspan font-size="15" dy="5.4">10</tspan><tspan font-size="15" dy="-13.2">5-</tspan></text>
<text x="748.5" y="172.8" font-size="23" textLength="41.5" lengthAdjust="spacingAndGlyphs">H<tspan font-size="15" dy="5.1">2</tspan><tspan dy="-5.1">O</tspan></text>

<text x="294" y="318.8" font-size="22" textLength="67" lengthAdjust="spacingAndGlyphs">DMSO</text>
<text x="260.5" y="352.8" font-size="22" textLength="134" lengthAdjust="spacingAndGlyphs">UV irradiation</text>
<text x="733" y="318.1" font-size="23" textLength="73" lengthAdjust="spacingAndGlyphs">P<tspan font-size="15" dy="5.7">3</tspan><tspan dy="-5.7">O</tspan><tspan font-size="15" dy="5.7">10</tspan><tspan font-size="15" dy="-12.5">5-</tspan></text>
<text x="748.5" y="352.6" font-size="23" textLength="41.5" lengthAdjust="spacingAndGlyphs">H<tspan font-size="15" dy="5.3">2</tspan><tspan dy="-5.3">O</tspan></text>


<!-- ============ CHEMICAL STRUCTURES ============ -->
<g fill="none" stroke="#000" stroke-width="2" stroke-linecap="round" stroke-linejoin="round">
  <path d="M61.5 285L83.3 298.3L104.3 286L121.1 295.5"/>
  <path d="M62.5 280.2L83.3 292.4"/>
  <path d="M102.4 286V267.5M106.2 286V267.5"/>
  <path d="M61.5 361.5L83.3 374.5L104.3 362.3L121.1 371.7"/>
  <path d="M62.5 356.7L83.3 368.9"/>
  <path d="M102.4 362.3V344M106.2 362.3V344"/>
  <path d="M131.4 371.3L148.3 362L169.8 374.5L186.2 365.7"/>
</g>
<path d="M131.4 294.6L148.3 285.2L169.8 298.3" fill="none" stroke="#1a7ff0" stroke-width="1.8" stroke-linecap="round"/>
<g fill="none" stroke="#ff1111" stroke-width="2.2" stroke-linecap="butt">
  <path d="M192.3 336.5V354.5M197.9 357.7L213.8 348.9M197.9 365.1L213.8 374"/>
</g>
<g class="sf" font-size="12">
<text x="100" y="265" font-size="11.5">O</text>
<text x="122" y="302.8" font-size="11.5">O</text>
<text x="100" y="341.5" font-size="11.5">O</text>
<text x="122" y="379" font-size="11.5">O</text>
<text x="188" y="366.3" font-size="11.5" style="fill:#ff1a1a">N</text>
<path d="M178.8 355.2H186M182.4 351.6V358.8" stroke="#ff1a1a" stroke-width="2"/>
<text class="sf" x="194.8" y="383" font-size="10.5" style="fill:#222">Cl<tspan font-size="7" dy="-4.5">-</tspan></text>
</g>
<text class="sf" x="228" y="304.7" font-size="22" textLength="26" lengthAdjust="spacingAndGlyphs" style="fill:#2a8bf0">EA</text>
<text class="sf" x="221.5" y="372.6" font-size="22.5" textLength="41" lengthAdjust="spacingAndGlyphs" style="fill:#ee1111">DAC</text>


<!-- ============ MIDDLE LOWER PANEL ============ -->
<rect x="426.9" y="241.8" width="282.1" height="190.6" fill="url(#gMid)"/>

<g stroke="#2f6aa6" stroke-width="1.5" fill="none">
 <path d="M467 263C470 266 473 264 475.5 266"/>
 <path d="M533 259C536 256 539 255 542 253"/>
 <path d="M596 258C599 260 601 262 604 264"/>
 <path d="M570 283C575 279 578 276 580 271.5"/>
 <path d="M617 291C617 287 620 284 618.5 280.5"/>
 <path d="M498.5 335.5C494 335 491 334 489 331"/>
 <path d="M600.5 331C604 330 607 331 611 331.5"/>
 <path d="M622.5 338C619 337.5 617 337 614.5 337"/>
 <path d="M449 380C447 382 445 384 443.5 386"/>
 <path d="M564 389C565 395 567 400 566.5 405.5"/>
 <path d="M650 385C648 390 646 393 645.5 397"/>
 <path d="M630 386.5C633 387 635 386 638 383"/>
 <path d="M456.5 414.5C452 414 450 412 449 408"/>
 <path d="M647.5 421C651 420 654 419 655.5 416"/>
 <path d="M617 368C617 364 619 361 621 357"/>
 <path d="M514 402C513 406 512 409 511.5 412.5"/>
 <path d="M645 273C644 275 643.5 277 643 279.5"/>
 <path d="M665 291.5C664 288 663 284 662 280"/>
</g>
<path d="M483.5 287L471 291.5" stroke="#2f6aa6" stroke-width="2.6" fill="none"/>
<g stroke="#595959" stroke-width="3.2" fill="none" stroke-linecap="butt">
 <path d="M484.9 243.1C477 260 466 282 470 293.5C474 305 490 312 489 326C488 350 470 370 456 394C448 410 442 422 442.7 432.4"/>
 <path d="M529.8 243.1C555 258 575 272 600.6 277.5C630 284 670 281 711 275.8"/>
 <path d="M614.2 243.1C605 258 598 270 600.6 290C604 320 620 355 638.8 388.8C648 405 656 418 663.3 432.4"/>
 <path d="M426.9 373.9C450 390 480 410 510.8 412C550 414 590 400 627.9 394.3C660 390 690 400 706.8 404.6"/>
</g>
<g fill="#5b9bd5">
 <circle cx="463.1" cy="255.4" r="9.5"/><circle cx="525.7" cy="262.8" r="9.5"/><circle cx="589.7" cy="254" r="9.5"/>
 <circle cx="568" cy="292.2" r="9.5"/><circle cx="617.5" cy="299.8" r="9.5"/><circle cx="508" cy="335.7" r="9.5"/>
 <circle cx="591.1" cy="332.5" r="9.5"/><circle cx="632" cy="338.5" r="9.5"/><circle cx="454.4" cy="372.5" r="9.5"/>
 <circle cx="563.3" cy="379.9" r="9.5"/><circle cx="651" cy="375.8" r="9.5"/>
 <circle cx="465.8" cy="414.7" r="9.5"/><circle cx="638.2" cy="421.5" r="9.5"/>
</g>
<g id="cat">
 <circle cx="495" cy="282.6" r="11.7" fill="#ff0000"/><path d="M495 276V289.2M488.4 282.6H501.6" stroke="#fff" stroke-width="2.8"/>
 <circle cx="645.6" cy="261.4" r="11.7" fill="#ff0000"/><path d="M645.6 254.8V268M639 261.4H652.2" stroke="#fff" stroke-width="2.8"/>
 <circle cx="665.4" cy="303.1" r="11.7" fill="#ff0000"/><path d="M665.4 296.5V309.7M658.8 303.1H672" stroke="#fff" stroke-width="2.8"/>
 <circle cx="515.4" cy="390.2" r="11.7" fill="#ff0000"/><path d="M515.4 383.6V396.8M508.8 390.2H522" stroke="#fff" stroke-width="2.8"/>
 <circle cx="611.5" cy="372.5" r="11.7" fill="#ff0000"/><path d="M611.5 365.9V379.1M604.9 372.5H618.1" stroke="#fff" stroke-width="2.8"/>
</g>
<circle cx="621" cy="386.1" r="9.5" fill="#5b9bd5"/>


<!-- ============ RIGHT LOWER PANEL ============ -->
<rect x="831.2" y="245" width="287.9" height="192.4" fill="url(#gRight)"/>

<ellipse cx="983" cy="279.5" rx="36.4" ry="18.5" fill="#6eaff2"/>
<ellipse cx="850.7" cy="355.5" rx="20.7" ry="28.2" fill="#72b2f2"/>
<ellipse cx="925.3" cy="334.8" rx="48" ry="29.4" fill="#d9a3b4"/>
<ellipse cx="1064.9" cy="316.8" rx="46.3" ry="32.2" fill="#d7a2b3"/>
<g stroke="#2f6fb8" stroke-width="1.5" fill="none">
 <path d="M890.8 272C894 268 897 264 901 261"/>
 <path d="M854.7 291.3C862 288 868 287 874.5 286.5"/>
 <path d="M946 256C952 266 958 274 966 280"/>
 <path d="M982 251C977 256 976 262 978 270"/>
 <path d="M1008 251C1012 260 1008 270 1003 275"/>
 <path d="M865.6 320C871 316 877 315 882.6 315.8"/>
 <path d="M857 330C850 340 846 345 846 350"/>
 <path d="M843 373C839 380 836 385 832 388"/>
 <path d="M858 372C866 380 869 390 871 400"/>
 <path d="M1074 290C1077 280 1079 275 1082 270"/>
 <path d="M1090 285C1094 282 1098 281 1102 280"/>
 <path d="M1022 322C1026 325 1030 327 1034 328"/>
 <path d="M1014.8 353C1014 345 1013 335 1016 333C1019 331 1022 332 1025 332"/>
 <path d="M1025.6 380.4C1029 381 1032 382 1035 382.5"/>
 <path d="M1030.5 418.5C1035 418 1039 416 1043 414.4"/>
 <path d="M968 350C966 354 964 358 964 362"/>
</g>
<g stroke="#595959" stroke-width="3.2" fill="none">
 <path d="M831 270C870 262 930 252 996 250.3C1040 250 1080 270 1116 297.3"/>
 <path d="M831 250.4C850 275 863 300 868 330C874 365 876 400 877.2 432.6"/>
 <path d="M830 376C833 390 840 394 855 394C870 394 885 388 900 380C940 360 980 346 1016 344.8C1060 345 1090 375 1120 408.6"/>
 <path d="M1054.8 248C1035 268 1020 290 1021 315C1022 345 1035 390 1050.4 432.6"/>
</g>
<g fill="#5b9bd5">
 <circle cx="894.2" cy="280.4" r="8.9"/><circle cx="882.9" cy="291" r="8.9"/>
 <circle cx="1017.3" cy="362.2" r="9.1"/><circle cx="1017.8" cy="377" r="9.1"/><circle cx="1021.9" cy="420.7" r="9.1"/>
</g>
<g fill="#3d8be2">
 <circle cx="966.5" cy="280.6" r="8.7"/><circle cx="983.9" cy="279.9" r="8.7"/><circle cx="1001" cy="279.9" r="8.7"/>
 <circle cx="850.7" cy="348" r="9.1"/><circle cx="842.4" cy="363" r="9.1"/><circle cx="855.6" cy="366.3" r="9.1"/>
</g>
<ellipse cx="923.6" cy="339" rx="25.7" ry="20.1" fill="#8b7b37"/>
<ellipse cx="1075.7" cy="322.6" rx="25.7" ry="20.3" fill="#8b7b37"/>
<text x="900.5" y="344.5" font-size="16" style="fill:#e8b9ae">P<tspan font-size="10.9" dy="4.0">3</tspan><tspan dy="-4.0">O</tspan><tspan font-size="10.9" dy="4.0">10</tspan><tspan font-size="10.9" dy="-9.9">5-</tspan></text>
<text x="1051.5" y="329" font-size="16" style="fill:#e8b9ae">P<tspan font-size="10.9" dy="4.0">3</tspan><tspan dy="-4.0">O</tspan><tspan font-size="10.9" dy="4.0">10</tspan><tspan font-size="10.9" dy="-9.9">5-</tspan></text>
<circle cx="893.4" cy="321.2" r="11.6" fill="#ff0000"/><path d="M893.4 314.5V327.9M886.7 321.2H900.1" stroke="#ffd0d0" stroke-width="2.6"/><circle cx="962.9" cy="338.1" r="11.6" fill="#ff0000"/><path d="M962.9 331.4V344.8M956.2 338.1H969.6" stroke="#ffd0d0" stroke-width="2.6"/>
<circle cx="1063" cy="292.5" r="11.6" fill="#ff0000"/><path d="M1063 285.8V299.2M1056.3 292.5H1069.7" stroke="#ffd0d0" stroke-width="2.6"/><circle cx="1087.3" cy="296.8" r="11.6" fill="#ff0000"/><path d="M1087.3 290.1V303.5M1080.6 296.8H1094.0" stroke="#ffd0d0" stroke-width="2.6"/><circle cx="1041.7" cy="329.5" r="11.6" fill="#ff0000"/><path d="M1041.7 322.8V336.2M1035.0 329.5H1048.4" stroke="#ffd0d0" stroke-width="2.6"/>
<text x="831" y="439.2" font-size="24.3" textLength="111.5" lengthAdjust="spacingAndGlyphs">Cohesion</text>

<!-- ============ LEGEND ============ -->
<circle cx="126.3" cy="474.6" r="9" fill="#ee0000"/>
<path d="M126.3 469.5V479.7M121.2 474.6H131.4" stroke="#fff" stroke-width="2.6"/>
<path d="M89.5 504C95 514 98 520 108 517C120 512 130 499 143 500C155 501 163 512 168.5 519.5" fill="none" stroke="#595959" stroke-width="3"/>
<text x="179.5" y="483.6" font-size="23" textLength="167" lengthAdjust="spacingAndGlyphs">= Cationic group</text>
<text x="178.5" y="518.2" font-size="23" textLength="164.5" lengthAdjust="spacingAndGlyphs">= Polymer chain</text>
<circle cx="388.4" cy="475.3" r="9" fill="#5b9bd5"/>
<ellipse cx="388" cy="510.2" rx="23" ry="11" fill="#9ccbf6"/>
<text x="417" y="485.4" font-size="23" textLength="213.5" lengthAdjust="spacingAndGlyphs">= Hydrophobic group</text>
<text x="417" y="518.1" font-size="23" textLength="260" lengthAdjust="spacingAndGlyphs">= Hydrophobic interaction</text>
<ellipse cx="752.2" cy="478.6" rx="19.3" ry="14.7" fill="#6aa84f"/>
<text x="741" y="482.3" font-size="8" style="fill:#fff" textLength="29" lengthAdjust="spacingAndGlyphs">P<tspan font-size="5.5" dy="1.6">3</tspan><tspan dy="-1.6">O</tspan><tspan font-size="5.5" dy="1.6">10</tspan><tspan font-size="5.5" dy="-4.5">5-</tspan></text>
<ellipse cx="752.8" cy="509.2" rx="20" ry="11.6" fill="#fdc9cb"/>
<text x="782" y="485.6" font-size="23" textLength="272.5" lengthAdjust="spacingAndGlyphs">= Multivalent anionic group</text>
<text x="782" y="519.3" font-size="23" textLength="255.5" lengthAdjust="spacingAndGlyphs">= Electrostatic interaction</text>

<!-- ============ PANEL B PHOTO ============ -->
<rect x="53.7" y="548.9" width="237.5" height="256" fill="url(#gPhoto)"/>
<defs>
 <linearGradient id="gJaw" x1="0" y1="0" x2="1" y2="0"><stop offset="0" stop-color="#8282b0"/><stop offset="0.6" stop-color="#9292bc"/><stop offset="1" stop-color="#a2a2c6"/></linearGradient>
 <linearGradient id="gWt" x1="0" y1="0" x2="1" y2="0">
  <stop offset="0" stop-color="#5a5f78"/><stop offset="0.08" stop-color="#9ea3b8"/><stop offset="0.2" stop-color="#2a2d3a"/><stop offset="0.33" stop-color="#0e0f16"/>
  <stop offset="0.45" stop-color="#6d7288"/><stop offset="0.52" stop-color="#3b3e50"/><stop offset="0.62" stop-color="#101218"/><stop offset="0.75" stop-color="#2b2e3d"/>
  <stop offset="0.88" stop-color="#767b92"/><stop offset="1" stop-color="#4a4e63"/></linearGradient>
</defs>
<polygon points="53.7,559.2 76.9,573.4 94,584.6 95.5,599 53.7,601" fill="url(#gJaw)"/>
<polygon points="53.7,612.9 95.5,615.1 96.3,630.8 53.7,659.2" fill="url(#gJaw)"/>
<path d="M54,559 L85,578.6" stroke="#dfe6ff" stroke-width="1.2"/>
<path d="M53.7,601.5 l3.2,-4 l3.2,4 l3.2,-4 l3.2,4 l3.2,-4 l3.2,4 l3.2,-4 l3.2,4 l3.2,-4 l3.2,4 l3.2,-4 l3.2,4 Z" fill="#1e1e30"/>
<path d="M53.7,612.5 l3.2,4 l3.2,-4 l3.2,4 l3.2,-4 l3.2,4 l3.2,-4 l3.2,4 l3.2,-4 l3.2,4 l3.2,-4 l3.2,4 l3.2,-4 Z" fill="#1e1e30"/>
<rect x="53.7" y="602.5" width="237.5" height="9.5" fill="#3b9dca"/>
<rect x="53.7" y="602.5" width="237.5" height="1.2" fill="#5ab0d6"/>
<defs>
 <linearGradient id="gNeck" x1="0" y1="0" x2="1" y2="0">
  <stop offset="0" stop-color="#4a4e68"/><stop offset="0.15" stop-color="#9aa0bb"/><stop offset="0.35" stop-color="#2c2f42"/><stop offset="0.55" stop-color="#6c7190"/><stop offset="0.8" stop-color="#30334a"/><stop offset="1" stop-color="#5d6280"/>
 </linearGradient>
</defs>
<path d="M153,625 C157,632 156,636 152,643 C150,647 150,650 151,651 L205,651 C206,648 205,644 202,640 C198,634 199,630 202,625 Z" fill="url(#gNeck)"/>
<path d="M156,638 C170,642 188,642 200,637" stroke="#c5cadf" stroke-width="1.6" fill="none"/>
<path d="M157,647 C172,650 188,650 201,646" stroke="#8e93ad" stroke-width="1.4" fill="none"/>
<ellipse cx="173" cy="621.3" rx="29.5" ry="5" fill="#454a62"/>
<ellipse cx="173" cy="620" rx="26" ry="3.2" fill="#aab0c8"/>
<ellipse cx="173" cy="620.8" rx="19" ry="2" fill="#4e536c"/>
<rect x="141.6" y="649" width="65.8" height="90" rx="3" fill="url(#gWt)"/>
<rect x="141.6" y="649" width="65.8" height="2.5" fill="#7f84a0"/>
<text x="65.5" y="578.7" font-size="32" style="fill:#fff">b</text>
<text x="146.5" y="600.9" font-size="28.5" textLength="75" lengthAdjust="spacingAndGlyphs" style="fill:#fff">Glass</text>
<path d="M213.7,640.7 L199,616.5 M199,616.5 L199.5,626 M199,616.5 L207,620.5" stroke="#fff" stroke-width="2.2" fill="none" stroke-linecap="round"/>
<text x="202.3" y="663.9" font-size="22" textLength="89.5" lengthAdjust="spacingAndGlyphs" style="fill:#fff">Hydrogel</text>
<text x="147" y="769.5" font-size="29.8" textLength="74" lengthAdjust="spacingAndGlyphs" style="fill:#fff">100 g</text>

<!-- ============ PANEL C CHART ============ -->
<text x="390.5" y="579.3" font-size="34">c</text>
<rect x="440.6" y="803.8" width="266" height="3" fill="#c8c8c8"/>
<rect x="466.6" y="796.1" width="35.9" height="7.2" fill="#2166d8"/>
<rect x="553" y="803" width="35" height="0.6" fill="#999"/>
<rect x="639.5" y="596.2" width="44.6" height="207.1" fill="#ee4242" stroke="#bb3a3a" stroke-width="0.6"/>
<path d="M661.8 571.8V621M658.8 572H664.8M658.8 620.8H664.8" stroke="#000" stroke-width="1.6" fill="none"/>
<rect x="482" y="795.2" width="5.4" height="2.8" fill="#000"/>
<rect x="440.6" y="548.5" width="265.6" height="254.8" fill="none" stroke="#333" stroke-width="1.4"/>
<path d="M436.3 803.3H440.6M438.3 782.1H440.6M436.3 760.8H440.6M438.3 739.6H440.6M436.3 718.4H440.6M438.3 697.1H440.6M436.3 675.9H440.6M438.3 654.7H440.6M436.3 633.4H440.6M438.3 612.2H440.6M436.3 591.0H440.6M438.3 569.7H440.6M436.3 548.5H440.6" stroke="#333" stroke-width="1.3" fill="none"/>
<text x="435.2" y="807.9" font-size="14" text-anchor="end">0</text>
<text x="435.2" y="765.4" font-size="14" text-anchor="end">20</text>
<text x="435.2" y="723.0" font-size="14" text-anchor="end">40</text>
<text x="435.2" y="680.5" font-size="14" text-anchor="end">60</text>
<text x="435.2" y="638.0" font-size="14" text-anchor="end">80</text>
<text x="435.2" y="595.6" font-size="14" text-anchor="end">100</text>
<text x="435.2" y="553.1" font-size="14" text-anchor="end">120</text>

<text transform="translate(402.3,685.4) rotate(-90)" font-size="18.4" text-anchor="middle">Adhesive strength (kPa)</text>
<text x="466" y="786.5" font-size="17" textLength="34.5" lengthAdjust="spacingAndGlyphs">3.42</text>
<text x="558" y="794.1" font-size="17" textLength="33.5" lengthAdjust="spacingAndGlyphs">0.14</text>
<text x="640" y="566.5" font-size="17" textLength="45" lengthAdjust="spacingAndGlyphs">97.65</text>
<g style="fill:#ff3b3b">
<text x="472" y="705.1" font-size="18" style="fill:#ff3b3b">28 <tspan class="sf" font-size="19">×</tspan></text>
<text x="457.5" y="726.9" font-size="18" textLength="67.5" lengthAdjust="spacingAndGlyphs" style="fill:#ff3b3b">increase</text>
<text x="557.8" y="703.4" font-size="18" style="fill:#ff3b3b">697 <tspan class="sf" font-size="19">×</tspan></text>
<text x="547.8" y="724.5" font-size="18" textLength="68" lengthAdjust="spacingAndGlyphs" style="fill:#ff3b3b">increase</text>
</g>
<g stroke="#ff3333" stroke-width="2" fill="#ff3333">
<path d="M484.3 767.8L502 740.5"/><path d="M507.3 732.4L498.9 738.9L503.5 738.3L504.8 742.7Z" stroke-width="0.6"/>
<path d="M577.7 769L595 741.5"/><path d="M600 733.6L591.7 740.2L596.3 739.5L597.7 743.9Z" stroke-width="0.6"/>
</g>
<text transform="translate(472,818.5) rotate(45)" font-size="16.7">p(DAC)/STPP</text>
<text transform="translate(565.5,819.2) rotate(45)" font-size="16.7">pEA</text>
<text transform="translate(648.5,818.5) rotate(45)" font-size="16.7">Hybrid hydrogel</text>

<!-- ============ PANEL D ============ -->
<text x="811" y="578.9" font-size="32">d</text>
<polygon points="858.7,572.1 1080.5,572.1 1112,669.1 828.1,669.1" fill="#ababab"/>
<rect x="828.1" y="669.1" width="283.9" height="3.5" fill="#6f6f6f"/>
<defs><linearGradient id="gHg" x1="0" y1="0" x2="0" y2="1"><stop offset="0" stop-color="#b2c3dd"/><stop offset="0.7" stop-color="#adbfda"/><stop offset="0.75" stop-color="#a5b6d0"/><stop offset="1" stop-color="#a5b6d0"/></linearGradient></defs>
<path d="M920,580 C940,577 975,579 1014,578 C1016,595 1014,615 1015,633 C985,634 950,633 921,634 C918,615 921,600 920,580Z" fill="url(#gHg)" opacity="0.95"/>
<g fill="#bdd0ea" opacity="0.9">
 <ellipse cx="940" cy="610" rx="4" ry="2"/><ellipse cx="1000" cy="606" rx="4" ry="2.5"/><ellipse cx="934" cy="625" rx="5" ry="3"/><ellipse cx="995" cy="615" rx="3" ry="2"/><ellipse cx="960" cy="630" rx="5" ry="2"/><ellipse cx="1010" cy="595" rx="3" ry="4"/>
</g>
<text x="915.8" y="596" font-size="21.8" textLength="92" lengthAdjust="spacingAndGlyphs">Hydrogel</text>
<rect x="950.6" y="608.7" width="38.3" height="19.9" fill="none" stroke="#6d6360" stroke-width="1.8"/>
<path d="M950.6 619.8L828.1 694.7M988.6 619.8L1118 699" stroke="#6d6360" stroke-width="1.5" fill="none"/>
<rect x="828.9" y="695.8" width="289.7" height="73.1" fill="url(#gD)"/>
<rect x="828.9" y="768.9" width="289.7" height="35.7" fill="#c0c0c0"/>
<g stroke="#2e6aa3" stroke-width="1.6" fill="none"><path d="M846 703.7C848 709.7 844.6 716.4 843.6 723.4"/><path d="M880.6 707.4C880.6 713.4 880.6 711.5 880.6 718.5"/><path d="M915.1 708.6C912.1 714.6 917.3 715.2 918.8 722.2"/><path d="M951 712.3C951 718.3 952.2 716.4 952.2 723.4"/><path d="M976.8 711.1C977.8 717.1 973.6 716.4 973.1 723.4"/><path d="M1002.8 711.1C1000.8 717.1 993.1 716.4 994.1 723.4"/><path d="M1028.7 711.1C1027.7 717.1 1024.5 715.2 1025 722.2"/><path d="M1063.2 709.9C1061.2 715.9 1067.2 716.4 1068.2 723.4"/><path d="M1099 705C1096 711 1091.3 716.4 1092.8 723.4"/></g>
<path d="M828.9 700C900 711 960 714.5 1000 712.4C1050 710.5 1090 706 1117.9 699.2" stroke="#2f2c2c" stroke-width="4" fill="none"/>
<g fill="#5b9bd5"><rect x="842.9" y="737" width="3.2" height="4.4"/><rect x="917.2" y="737" width="3.2" height="4.4"/><rect x="950.6" y="737" width="3.2" height="4.4"/><rect x="971.2" y="737" width="3.2" height="4.4"/><rect x="991.6" y="737" width="3.2" height="4.4"/><rect x="1066.9" y="737" width="3.2" height="4.4"/><rect x="1092.1" y="737" width="3.2" height="4.4"/><circle cx="844.5" cy="730.1" r="8.4"/><circle cx="918.8" cy="730.1" r="8.4"/><circle cx="952.2" cy="730.1" r="8.4"/><circle cx="972.8" cy="730.1" r="8.4"/><circle cx="993.2" cy="730.1" r="8.4"/><circle cx="1068.5" cy="730.1" r="8.4"/><circle cx="1093.7" cy="730.1" r="8.4"/></g>
<g stroke="#5b9bd5" stroke-width="3.2" stroke-dasharray="3 3.4" fill="none"><path d="M844.5 745.2V766.8"/><path d="M918.8 745.2V766.8"/><path d="M952.2 745.2V766.8"/><path d="M972.8 745.2V766.8"/><path d="M993.2 745.2V766.8"/><path d="M1068.5 745.2V766.8"/><path d="M1093.7 745.2V766.8"/></g>
<g stroke="#ee0000" stroke-width="3.2" stroke-dasharray="3 3.4" fill="none"><path d="M876.8 745.2V766.8"/><path d="M1021.3 745.2V766.8"/></g>
<circle cx="876.8" cy="730.6" r="12" fill="#ee0000"/><path d="M876.8 723.6V737.6M869.8 730.6H883.8" stroke="#fff" stroke-width="2.8"/><circle cx="1021.3" cy="733.7" r="12" fill="#ee0000"/><path d="M1021.3 726.7V740.7M1014.3 733.7H1028.3" stroke="#fff" stroke-width="2.8"/>
<ellipse cx="842.7" cy="778.5" rx="6.6" ry="5.8" fill="#fff"/><path d="M839.5 778.5H845.9000000000001" stroke="#000" stroke-width="1.8"/><ellipse cx="878.2" cy="778.5" rx="6.6" ry="5.8" fill="#fff"/><path d="M875.0 778.5H881.4000000000001" stroke="#000" stroke-width="1.8"/><ellipse cx="914.2" cy="778.5" rx="6.6" ry="5.8" fill="#fff"/><path d="M911.0 778.5H917.4000000000001" stroke="#000" stroke-width="1.8"/><ellipse cx="950.2" cy="778.5" rx="6.6" ry="5.8" fill="#fff"/><path d="M947.0 778.5H953.4000000000001" stroke="#000" stroke-width="1.8"/><ellipse cx="986.2" cy="778.5" rx="6.6" ry="5.8" fill="#fff"/><path d="M983.0 778.5H989.4000000000001" stroke="#000" stroke-width="1.8"/><ellipse cx="1022.1" cy="778.5" rx="6.6" ry="5.8" fill="#fff"/><path d="M1018.9 778.5H1025.3" stroke="#000" stroke-width="1.8"/><ellipse cx="1058.1" cy="778.5" rx="6.6" ry="5.8" fill="#fff"/><path d="M1054.8999999999999 778.5H1061.3" stroke="#000" stroke-width="1.8"/><ellipse cx="1094.1" cy="778.5" rx="6.6" ry="5.8" fill="#fff"/><path d="M1090.8999999999999 778.5H1097.3" stroke="#000" stroke-width="1.8"/>
<text class="sf" x="852.6" y="754.2" font-size="20">δ<tspan font-size="13.5" dy="-5.8">+</tspan></text><text class="sf" x="926.3" y="754.2" font-size="20">δ<tspan font-size="13.5" dy="-5.8">+</tspan></text><text class="sf" x="959.0" y="754.2" font-size="20">δ<tspan font-size="13.5" dy="-5.8">+</tspan></text><text class="sf" x="980.3" y="754.2" font-size="20">δ<tspan font-size="13.5" dy="-5.8">+</tspan></text><text class="sf" x="1000.0" y="754.2" font-size="20">δ<tspan font-size="13.5" dy="-5.8">+</tspan></text><text class="sf" x="1075.3" y="754.2" font-size="20">δ<tspan font-size="13.5" dy="-5.8">+</tspan></text><text class="sf" x="1103.3" y="754.2" font-size="20">δ<tspan font-size="13.5" dy="-5.8">+</tspan></text>
<text x="830" y="802.6" font-size="26.3" textLength="110.8" lengthAdjust="spacingAndGlyphs">Adhesion</text>

</svg>
</body></html>
